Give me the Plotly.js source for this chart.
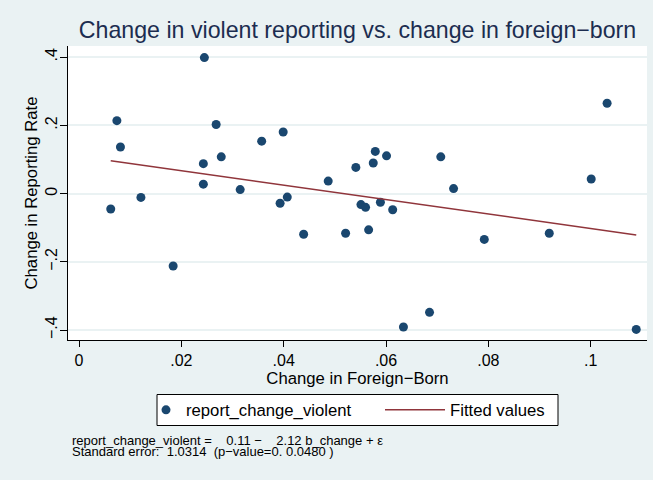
<!DOCTYPE html>
<html>
<head>
<meta charset="utf-8">
<script src="https://cdn.plot.ly/plotly-3.0.1.min.js"></script>
<style>html,body{margin:0;padding:0;background:#eaf2f3;}</style>
</head>
<body>
<div id="chart" style="width:653px;height:480px;"></div>
<script>
// Change in foreign-born share (x) and change in violent reporting rate (y)
const bChange = [0.0062, 0.0074, 0.0081, 0.0121, 0.0184, 0.0245, 0.0268, 0.0243, 0.0278, 0.0243,
                 0.0315, 0.0357, 0.0399, 0.0393, 0.0407, 0.0439, 0.0487, 0.0521, 0.0541, 0.0551,
                 0.0560, 0.0579, 0.0575, 0.0601, 0.0589, 0.0613, 0.0566, 0.0634, 0.0685, 0.0707,
                 0.0732, 0.0792, 0.0919, 0.1001, 0.1032, 0.1089];
const reportChangeViolent = [-0.045, 0.214, 0.137, -0.011, -0.212, 0.399, 0.203, 0.088, 0.108, 0.028,
                 0.012, 0.154, 0.181, -0.028, -0.010, -0.119, 0.037, -0.116, 0.077, -0.032,
                 -0.040, 0.124, 0.090, 0.111, -0.025, -0.047, -0.106, -0.391, -0.348, 0.108,
                 0.015, -0.134, -0.116, 0.043, 0.265, -0.398];
const fitIntercept = 0.11;
const fitSlope = -2.12;
const xTickVals = [0, 0.02, 0.04, 0.06, 0.08, 0.1];
const xTickText = ['0', '.02', '.04', '.06', '.08', '.1'];
const yTickVals = [-0.4, -0.2, 0, 0.2, 0.4];
const yTickText = ['\u2212.4', '\u2212.2', '0', '.2', '.4'];

const xMin = Math.min(...bChange), xMax = Math.max(...bChange);
const fitX = [xMin, xMax];
const fitY = fitX.map(v => fitIntercept + fitSlope * v);

const FONT = 'Liberation Sans, Arial, sans-serif';
const NB = '\u00a0';
// plot area in pixels: left 68, right 647, top 46, bottom 340
const px = p => (p - 68) / 579;
const py = p => (340 - p) / 294;

const traces = [
  {
    x: bChange, y: reportChangeViolent, type: 'scatter', mode: 'markers',
    name: 'report_change_violent', legend: 'legend',
    marker: {color: '#1a476f', size: 9}
  },
  {
    x: fitX, y: fitY, type: 'scatter', mode: 'lines',
    name: 'Fitted values', legend: 'legend2',
    line: {color: '#90353b', width: 1.5}
  }
];

const legendBase = {
  orientation: 'v', xanchor: 'left', yanchor: 'middle', y: py(410),
  bgcolor: 'rgba(0,0,0,0)', borderwidth: 0,
  font: {size: 16.7, family: FONT, color: '#000'}
};

const layout = {
  width: 653, height: 480,
  paper_bgcolor: '#eaf2f3', plot_bgcolor: '#ffffff',
  margin: {l: 68, r: 6, t: 46, b: 140},
  font: {family: FONT, color: '#000000', size: 16},
  title: {
    text: 'Change in violent reporting vs. change in foreign\u2212born',
    font: {family: FONT, size: 23.2, color: '#1c2d50'},
    x: 0.5, xref: 'paper', xanchor: 'center',
    y: 1 - 30/480, yref: 'container', yanchor: 'middle'
  },
  xaxis: {
    range: [-0.00215, 0.111],
    tickvals: xTickVals, ticktext: xTickText,
    ticks: 'outside', ticklen: 6, tickcolor: '#000', tickwidth: 1,
    showgrid: false, zeroline: false,
    showline: true, linecolor: '#000', linewidth: 1,
    tickfont: {size: 16},
    title: {text: 'Change in Foreign\u2212Born', font: {size: 16.7}, standoff: 0}
  },
  yaxis: {
    range: [-0.429, 0.433],
    tickvals: yTickVals, ticktext: yTickText,
    tickangle: -90,
    ticks: 'outside', ticklen: 7, tickcolor: '#000', tickwidth: 1,
    ticklabelstandoff: -3,
    showgrid: true, gridcolor: '#eaf2f3', gridwidth: 1.5,
    zeroline: false,
    showline: true, linecolor: '#000', linewidth: 1,
    tickfont: {size: 16},
    title: {text: 'Change in Reporting Rate', font: {size: 16.7}, standoff: 0}
  },
  showlegend: true,
  legend: Object.assign({}, legendBase, {x: px(146), itemwidth: 30}),
  legend2: Object.assign({}, legendBase, {x: px(380), itemwidth: 60}),
  shapes: [
    {
      type: 'rect', xref: 'paper', yref: 'paper', layer: 'above',
      x0: px(157), x1: px(558), y0: py(394.5), y1: py(425.5),
      line: {color: '#000', width: 1}, fillcolor: '#ffffff'
    }
  ],
  annotations: [
    {
      xref: 'paper', yref: 'paper', x: px(70), y: py(440.5),
      xanchor: 'left', yanchor: 'middle', showarrow: false, align: 'left',
      text: 'report_change_violent =' + NB.repeat(4) + '0.11 \u2212' + NB.repeat(4) + '2.12 b_change + \u03b5',
      font: {size: 13, color: '#000'}
    },
    {
      xref: 'paper', yref: 'paper', x: px(70), y: py(451.5),
      xanchor: 'left', yanchor: 'middle', showarrow: false, align: 'left',
      text: 'Standard error:' + NB.repeat(2) + '1.0314' + NB.repeat(2) + '(p\u2212value=0. 0.0480 )',
      font: {size: 13, color: '#000'}
    }
  ]
};

Plotly.newPlot('chart', traces, layout, {displayModeBar: false, responsive: false});
</script>
</body>
</html>
